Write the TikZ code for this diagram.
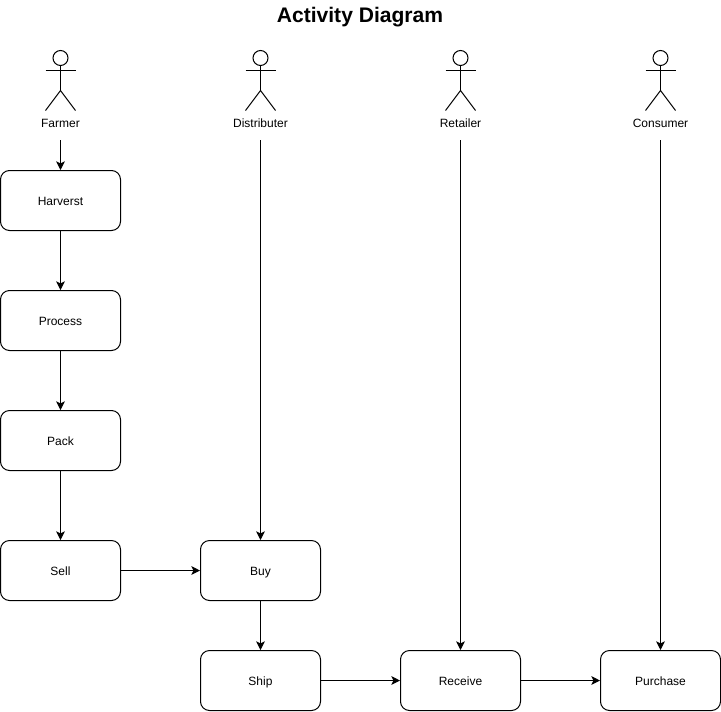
\documentclass[tikz,border=0pt]{standalone}
\usepackage{fontspec}
\setmainfont{Liberation Sans}
\usetikzlibrary{arrows.meta,positioning,calc}
\tikzset{
  anode/.style={rectangle,draw,line width=0.75pt,rounded corners=6.75pt,minimum width=90pt,minimum height=45pt,inner sep=0pt,text height=8.5pt,text depth=1.5pt,font=\fontsize{9}{11}\selectfont},
  lnode/.style={inner sep=0pt,minimum height=25.5pt,text height=8.5pt,text depth=1.5pt,font=\fontsize{9}{11}\selectfont},
  actorline/.style={line width=0.75pt},
  de/.style={-{Stealth[length=6.5pt,width=6.5pt,inset=1.6pt]},line width=0.75pt}
}
\begin{document}
\begin{tikzpicture}[x=0.75pt,y=-0.75pt]
\useasboundingbox (0,0) rectangle (721,711);
\node[font=\fontsize{15.8}{19}\bfseries\selectfont,inner sep=0pt] (title) at (360,17) {Activity Diagram};
% actors
\foreach \x in {60.5,260.5,460.5,660.5} {
  \draw[actorline] (\x,58) circle (7.5);
  \draw[actorline] (\x,65.5) -- (\x,90.5);
  \draw[actorline] (\x-15,70.5) -- (\x+15,70.5);
  \draw[actorline] (\x-15,110.5) -- (\x,90.5) -- (\x+15,110.5);
}
\node[lnode] (farmer) at (60.5,123) {Farmer};
\node[lnode] (distributer) at (260.5,123) {Distributer};
\node[lnode] (retailer) at (460.5,123) {Retailer};
\node[lnode] (consumer) at (660.5,123) {Consumer};
% activities
\node[anode] (harvest) at (60.5,200.5) {Harverst};
\node[anode] (process) at (60.5,320.5) {Process};
\node[anode] (pack) at (60.5,440.5) {Pack};
\node[anode] (sell) at (60.5,570.5) {Sell};
\node[anode] (buy) at (260.5,570.5) {Buy};
\node[anode] (ship) at (260.5,680.5) {Ship};
\node[anode] (receive) at (460.5,680.5) {Receive};
\node[anode] (purchase) at (660.5,680.5) {Purchase};
\draw[de] (farmer) -- (harvest);
\draw[de] (harvest) -- (process);
\draw[de] (process) -- (pack);
\draw[de] (pack) -- (sell);
\draw[de] (sell) -- (buy);
\draw[de] (distributer) -- (buy);
\draw[de] (buy) -- (ship);
\draw[de] (ship) -- (receive);
\draw[de] (retailer) -- (receive);
\draw[de] (receive) -- (purchase);
\draw[de] (consumer) -- (purchase);
\end{tikzpicture}
\end{document}
